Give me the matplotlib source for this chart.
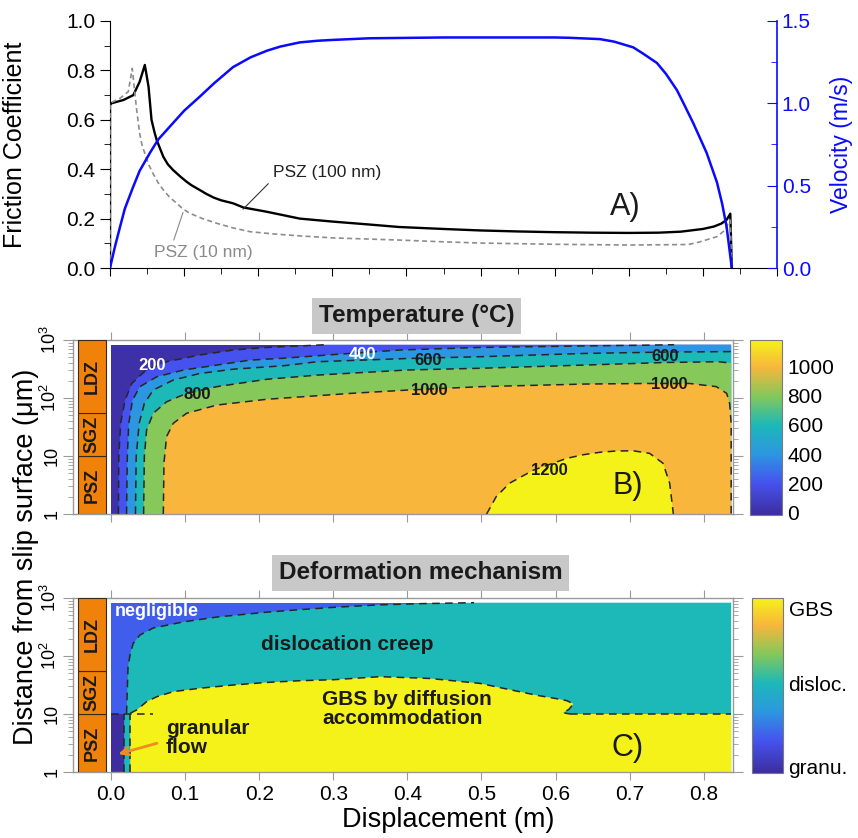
import matplotlib
matplotlib.use("Agg")
import matplotlib.pyplot as plt
import numpy as np
from matplotlib.colors import LinearSegmentedColormap, Normalize
from matplotlib.cm import ScalarMappable
from matplotlib.patches import Rectangle
from matplotlib.ticker import MultipleLocator, LogLocator, NullFormatter

plt.rcParams['font.family'] = ['Liberation Sans', 'DejaVu Sans']
plt.rcParams['mathtext.fontset'] = 'custom'
plt.rcParams['mathtext.rm'] = 'Liberation Sans'
plt.rcParams['mathtext.it'] = 'Liberation Sans:italic'
plt.rcParams['mathtext.bf'] = 'Liberation Sans:bold'

# ---- friction / velocity history (panel A) ----
disp_100 = [0.0, 0.0, 0.002, 0.018, 0.0315, 0.040, 0.047, 0.052, 0.056, 0.060, 0.063,
            0.068, 0.072, 0.078, 0.085, 0.095, 0.103, 0.11, 0.121, 0.13, 0.140, 0.15,
            0.166, 0.18, 0.211, 0.256, 0.30, 0.35, 0.39, 0.45, 0.50, 0.55, 0.60, 0.65,
            0.70, 0.74, 0.77, 0.80, 0.815, 0.825, 0.832, 0.837, 0.839]
mu_100 = [0.0, 0.66, 0.667, 0.68, 0.70, 0.754, 0.822, 0.734, 0.60, 0.55, 0.518,
          0.48, 0.45, 0.42, 0.397, 0.37, 0.35, 0.335, 0.316, 0.30, 0.285, 0.274,
          0.262, 0.245, 0.228, 0.20, 0.188, 0.176, 0.166, 0.158, 0.152, 0.148, 0.145,
          0.143, 0.142, 0.143, 0.147, 0.158, 0.168, 0.18, 0.195, 0.22, 0.0]

disp_10 = [0.0, 0.0, 0.0135, 0.0247, 0.030, 0.034, 0.036, 0.040, 0.043, 0.047, 0.052,
           0.058, 0.065, 0.072, 0.08, 0.090, 0.098, 0.108, 0.125, 0.144, 0.165, 0.189,
           0.22, 0.256, 0.30, 0.391, 0.45, 0.50, 0.60, 0.70, 0.78, 0.795, 0.819, 0.83,
           0.834, 0.837, 0.839]
mu_10 = [0.0, 0.667, 0.687, 0.714, 0.808, 0.694, 0.64, 0.545, 0.50, 0.464, 0.42,
         0.383, 0.345, 0.316, 0.288, 0.262, 0.24, 0.221, 0.20, 0.181, 0.163, 0.147,
         0.138, 0.130, 0.122, 0.113, 0.106, 0.101, 0.096, 0.093, 0.095, 0.105, 0.127,
         0.154, 0.181, 0.194, 0.0]

disp_v = [0.0, 0.0067, 0.0135, 0.02, 0.031, 0.04, 0.054, 0.065, 0.077, 0.09, 0.10,
          0.121, 0.14, 0.166, 0.19, 0.212, 0.23, 0.256, 0.28, 0.30, 0.35, 0.45, 0.55,
          0.60, 0.62, 0.661, 0.68, 0.706, 0.72, 0.738, 0.75, 0.765, 0.775, 0.787,
          0.795, 0.805, 0.812, 0.819, 0.826, 0.832, 0.839]
velocity = [0.0, 0.13, 0.249, 0.36, 0.49, 0.59, 0.70, 0.78, 0.84, 0.905, 0.955,
            1.04, 1.12, 1.22, 1.28, 1.32, 1.345, 1.37, 1.38, 1.385, 1.395, 1.40, 1.40,
            1.40, 1.398, 1.39, 1.375, 1.34, 1.30, 1.245, 1.18, 1.08, 0.99, 0.88,
            0.80, 0.70, 0.61, 0.52, 0.39, 0.25, 0.0]

# ---- temperature field (panel B): isotherms as (displacement, depth in um) ----
temp_levels = [200, 400, 600, 800, 1000, 1200]
t200_x = [0.010, 0.0105, 0.013, 0.019, 0.028, 0.045, 0.075, 0.12, 0.165, 0.21, 0.255, 0.29]
t200_z = [1, 9.7, 36.6, 92, 178, 284, 422, 552, 672, 745, 790, 830]
t400_x = [0.021, 0.022, 0.024, 0.029, 0.039, 0.062, 0.098, 0.143, 0.188, 0.233, 0.30,
          0.39, 0.50, 0.64, 0.72, 0.76]
t400_z = [1, 9.7, 36.6, 92, 157, 233, 304, 370, 450, 485, 560, 672, 745, 790, 812, 830]
t600_x = [0.033, 0.034, 0.038, 0.045, 0.057, 0.084, 0.12, 0.165, 0.233, 0.278, 0.40,
          0.50, 0.64, 0.75, 0.837]
t600_z = [1, 9.7, 36.6, 80.6, 137, 204, 265, 314, 360, 422, 480, 516, 587, 620, 631]
t800_x = [0.044, 0.045, 0.048, 0.057, 0.075, 0.102, 0.143, 0.21, 0.278, 0.40, 0.50,
          0.64, 0.75, 0.82, 0.837]
t800_z = [1, 9.7, 28, 54.5, 86, 120, 157, 210, 248, 304, 326, 370, 410, 422, 400]
t1000_x = [0.0706, 0.0715, 0.075, 0.084, 0.102, 0.143, 0.21, 0.323, 0.40, 0.50, 0.64,
           0.723, 0.781, 0.817, 0.831, 0.835, 0.837, 0.837]
t1000_z = [1, 7.6, 21.6, 36.6, 54.5, 75.6, 95, 120, 137, 157, 174, 178, 178, 157, 120,
           80, 36.6, 1]
t1200_x = [0.507, 0.52, 0.538, 0.57, 0.615, 0.637, 0.66, 0.682, 0.705, 0.727, 0.745,
           0.754, 0.759]
t1200_z = [1, 2.0, 3.4, 5.7, 9.1, 10.5, 11.6, 12.2, 12.3, 11.1, 7.5, 3.4, 1]
temp_ticks = [0, 200, 400, 600, 800, 1000]

# contour labels: (text, displacement, depth)
temp_label_text = ['200', '400', '600', '600', '800', '1000', '1000', '1200']
temp_label_x = [0.055, 0.339, 0.428, 0.748, 0.117, 0.43, 0.753, 0.591]
temp_label_z = [370, 552, 452, 510, 113, 137, 168, 5.7]

# ---- deformation mechanism map (panel C) ----
neg_x = [0.021, 0.022, 0.023, 0.026, 0.030, 0.039, 0.057, 0.098, 0.143, 0.21, 0.255,
         0.30, 0.36, 0.42, 0.49]
neg_z = [10.3, 25.9, 65, 110, 165, 230, 304, 388, 470, 570, 630, 690, 760, 800, 830]
gbs_x = [0.026, 0.035, 0.048, 0.062, 0.084, 0.12, 0.165, 0.21, 0.255, 0.30, 0.363,
         0.43, 0.498, 0.54, 0.575, 0.60, 0.615, 0.624, 0.618, 0.61, 0.62]
gbs_z = [10.3, 11.8, 16.3, 19.9, 24.3, 27.8, 31.6, 35, 37.5, 39, 44, 41, 33.7, 26,
         21, 18.5, 17, 15, 12, 10.5, 10]
granular_edge = 0.018
gbs_left_edge = 0.026
gbs_floor = 10
mech_value = {'granular': 0.0, 'negligible': 0.21, 'dislocation': 0.515, 'GBS': 1.0}
mech_ticks = [0.035, 0.51, 0.94]
mech_ticklabels = ['granu.', 'disloc.', 'GBS']

# shear zone layers next to the maps
zone_edges = [1, 10, 55, 1000]
zone_names = ['PSZ', 'SGZ', 'LDZ']

X_END = 0.837
Z_TOP = 830

parula = LinearSegmentedColormap.from_list('parula', [
    (0.0, '#3D2D9F'), (0.183, '#4553EE'), (0.349, '#2C97E0'), (0.515, '#1DB8B8'),
    (0.68, '#84C85A'), (0.846, '#F8B63C'), (1.0, '#F5F219')])
temp_norm = Normalize(-20, 1185)
mech_norm = Normalize(0, 1)

GREY = '#9a9a9a'
W, H = 858, 838
fig = plt.figure(figsize=(W / 100, H / 100), dpi=100)


def frac(x0, y0, x1, y1):
    # pixel box -> figure fraction rect
    return [x0 / W, 1 - y1 / H, (x1 - x0) / W, (y1 - y0) / H]


# ================= A) friction and velocity =================
axA = fig.add_axes(frac(110, 21, 777, 268))
axA.plot(disp_100, mu_100, color='black', lw=1.7, zorder=3)
axA.plot(disp_10, mu_10, color='#8c8c8c', lw=1.2, ls=(0, (3, 2)), zorder=3)
axA.set_xlim(0, 0.9)
axA.set_ylim(0, 1.0)
axA.spines['top'].set_visible(False)
axA.spines['right'].set_visible(False)
axA.xaxis.set_major_locator(MultipleLocator(0.1))
axA.xaxis.set_minor_locator(MultipleLocator(0.05))
axA.yaxis.set_major_locator(MultipleLocator(0.2))
axA.yaxis.set_minor_locator(MultipleLocator(0.1))
axA.set_yticks([0, 0.2, 0.4, 0.6, 0.8, 1.0], labels=['0.0', '0.2', '0.4', '0.6', '0.8', '1.0'])
axA.tick_params(axis='x', which='both', labelbottom=False, direction='out')
axA.tick_params(axis='x', which='major', length=6)
axA.tick_params(axis='x', which='minor', length=4)
axA.tick_params(axis='y', which='major', length=7, labelsize=15, direction='out')
axA.tick_params(axis='y', which='minor', length=4, direction='out')
axA.set_ylabel('Friction Coefficient', fontsize=18)
axA.yaxis.set_label_coords(-0.125, 0.5)

axA.annotate('PSZ (100 nm)', xy=(0.1795, 0.238), xytext=(0.220, 0.385),
             fontsize=12.5, color='#222222', ha='left', va='center',
             arrowprops=dict(arrowstyle='-', color='#333333', lw=0.8,
                             relpos=(0.0, 0.1), shrinkA=2, shrinkB=0))
axA.annotate('PSZ (10 nm)', xy=(0.0985, 0.225), xytext=(0.059, 0.061),
             fontsize=12.5, color='#8a8a8a', ha='left', va='center',
             arrowprops=dict(arrowstyle='-', color='#8a8a8a', lw=0.8,
                             relpos=(0.18, 0.9), shrinkA=2, shrinkB=0))
axA.text(0.695, 0.247, 'A)', fontsize=22, ha='center', va='center', color='#1a1a1a')

axV = axA.twinx()
axV.plot(disp_v, velocity, color='#0a0aff', lw=1.8, zorder=2)
axV.set_ylim(0, 1.5)
for side in ['top', 'left', 'bottom']:
    axV.spines[side].set_visible(False)
axV.spines['right'].set_color('#0a0aff')
axV.spines['right'].set_linewidth(1.2)
axV.yaxis.set_major_locator(MultipleLocator(0.5))
axV.yaxis.set_minor_locator(MultipleLocator(0.25))
axV.set_yticks([0, 0.5, 1.0, 1.5], labels=['0.0', '0.5', '1.0', '1.5'])
axV.tick_params(axis='y', which='both', direction='in', colors='#0a0aff', labelsize=15)
axV.tick_params(axis='y', which='major', length=7)
axV.tick_params(axis='y', which='minor', length=4)
axV.set_ylabel('Velocity (m/s)', fontsize=16.5, color='#0a0aff')
axV.yaxis.set_label_coords(1.08, 0.5)


def depth_axes(rect):
    ax = fig.add_axes(rect)
    ax.set_yscale('log')
    ax.set_xlim(-0.0513, 0.8395)
    ax.set_ylim(1, 1000)
    for s in ax.spines.values():
        s.set_color(GREY)
        s.set_linewidth(1.0)
    ax.xaxis.set_major_locator(MultipleLocator(0.1))
    ax.tick_params(axis='x', which='major', direction='out', top=True, bottom=True,
                   length=6, color=GREY, labelsize=15)
    ax.set_yticks([1, 10, 100, 1000], labels=['1', '10', '$10^2$', '$10^3$'],
                  rotation=90, va='center', fontsize=13)
    ax.yaxis.set_minor_locator(LogLocator(base=10, subs=np.arange(2, 10)))
    ax.yaxis.set_minor_formatter(NullFormatter())
    ax.tick_params(axis='y', which='major', direction='out', left=True, right=True,
                   length=7, color=GREY, pad=2)
    ax.tick_params(axis='y', which='minor', direction='out', left=True, right=True,
                   length=3.5, color=GREY)
    # PSZ / SGZ / LDZ column
    for z0, z1, name in zip(zone_edges[:-1], zone_edges[1:], zone_names):
        ax.add_patch(Rectangle((-0.0445, z0), 0.0378, z1 - z0, fc='#F0820A',
                               ec='#3a2a1a', lw=0.8, zorder=4))
        ax.text(-0.0256, np.sqrt(z0 * z1), name, rotation=90, ha='center',
                va='center', fontsize=13, fontweight='bold', color='#1a1a1a', zorder=5)
    return ax


def dashed(ax, xs, zs):
    ax.plot(xs, zs, color='#262626', lw=1.1, ls=(0, (5, 3.5)), zorder=3)


def region(xs, zs):
    # close an isotherm into the area on its hot side
    pts = list(zip(xs, zs))
    if zs[-1] > 1:
        if zs[-1] >= Z_TOP:
            pts.append((X_END, Z_TOP))
        pts.append((X_END, 1))
    return np.array(pts)


# ================= B) temperature =================
axB = depth_axes(frac(73, 340, 733, 514))
axB.tick_params(axis='x', labelbottom=False)
axB.fill([0, X_END, X_END, 0], [1, 1, Z_TOP, Z_TOP], color=parula(temp_norm(0)), lw=0)
isotherms = [(t200_x, t200_z), (t400_x, t400_z), (t600_x, t600_z), (t800_x, t800_z),
             (t1000_x, t1000_z), (t1200_x, t1200_z)]
for level, (xs, zs) in zip(temp_levels, isotherms):
    poly = region(xs, zs)
    axB.fill(poly[:, 0], poly[:, 1], color=parula(temp_norm(level)), lw=0, zorder=1)
for xs, zs in isotherms:
    dashed(axB, xs, zs)
for txt, lx, lz in zip(temp_label_text, temp_label_x, temp_label_z):
    col = 'white' if txt in ('200', '400') else '#1a1a1a'
    axB.text(lx, lz, txt, ha='center', va='center', fontsize=12, fontweight='bold',
             color=col, zorder=5)
axB.text(0.697, 3.04, 'B)', fontsize=22, ha='center', va='center', color='#1a1a1a', zorder=5)
axB.text(0.521, 1.138, 'Temperature (°C)', transform=axB.transAxes, ha='center',
         va='center', fontsize=17.5, fontweight='bold', color='#1a1a1a',
         bbox=dict(boxstyle='square,pad=0.28', fc='#c8c8c8', ec='none'))

caxB = fig.add_axes(frac(750, 340, 782, 515))
cbB = fig.colorbar(ScalarMappable(norm=temp_norm, cmap=parula), cax=caxB, ticks=temp_ticks)
cbB.outline.set_edgecolor('#7a7a7a')
caxB.tick_params(length=0, labelsize=15, pad=4)

# ================= C) deformation mechanism =================
axC = depth_axes(frac(73, 598, 733, 772))
axC.fill([0, X_END, X_END, 0], [1, 1, Z_TOP, Z_TOP],
         color=parula(mech_value['negligible']), lw=0)
disl = [(granular_edge, 1), (granular_edge, gbs_floor)] + list(zip(neg_x, neg_z)) + \
       [(X_END, Z_TOP), (X_END, 1)]
disl = np.array(disl)
axC.fill(disl[:, 0], disl[:, 1], color=parula(mech_value['dislocation']), lw=0, zorder=1)
gbs = [(gbs_left_edge, 1)] + list(zip(gbs_x, gbs_z)) + [(X_END, gbs_floor), (X_END, 1)]
gbs = np.array(gbs)
axC.fill(gbs[:, 0], gbs[:, 1], color=parula(mech_value['GBS']), lw=0, zorder=1)
axC.fill([0, granular_edge, granular_edge, 0], [1, 1, gbs_floor, gbs_floor],
         color=parula(mech_value['granular']), lw=0, zorder=1)

dashed(axC, neg_x, neg_z)
dashed(axC, gbs_x, gbs_z)
dashed(axC, [gbs_x[-1], X_END], [gbs_floor, gbs_floor])
dashed(axC, [granular_edge, granular_edge], [1, gbs_floor])
dashed(axC, [gbs_left_edge, gbs_left_edge], [1, gbs_floor])
dashed(axC, [0, 0.057], [gbs_floor, gbs_floor])

axC.text(0.005, 595, 'negligible', ha='left', va='center', fontsize=13,
         fontweight='bold', color='white', zorder=5)
axC.text(0.319, 155, 'dislocation creep', ha='center', va='center', fontsize=15,
         fontweight='bold', color='#1a1a1a', zorder=5)
axC.text(0.285, 12.2, 'GBS by diffusion\naccommodation', ha='left', va='center',
         fontsize=15, fontweight='bold', color='#1a1a1a', linespacing=1.0, zorder=5)
axC.text(0.074, 3.85, 'granular\nflow', ha='left', va='center', fontsize=15,
         fontweight='bold', color='#1a1a1a', linespacing=1.0, zorder=5)
axC.annotate('', xy=(0.0099, 2.04), xytext=(0.062, 3.13),
             arrowprops=dict(arrowstyle='->', color='#F08C1E', lw=2.0,
                             mutation_scale=14, shrinkA=0, shrinkB=0), zorder=6)
axC.text(0.697, 2.6, 'C)', fontsize=22, ha='center', va='center', color='#1a1a1a', zorder=5)
axC.text(0.527, 1.144, 'Deformation mechanism', transform=axC.transAxes, ha='center',
         va='center', fontsize=17.5, fontweight='bold', color='#1a1a1a',
         bbox=dict(boxstyle='square,pad=0.28', fc='#c8c8c8', ec='none'))
axC.set_xticks(np.arange(0, 0.85, 0.1), labels=['0.0', '0.1', '0.2', '0.3', '0.4',
                                                '0.5', '0.6', '0.7', '0.8'])

caxC = fig.add_axes(frac(752, 598, 783, 773))
cbC = fig.colorbar(ScalarMappable(norm=mech_norm, cmap=parula), cax=caxC, ticks=mech_ticks)
cbC.set_ticklabels(mech_ticklabels)
cbC.outline.set_edgecolor('#7a7a7a')
caxC.tick_params(length=0, labelsize=15, pad=4)

fig.text(0.522, 0.021, 'Displacement (m)', ha='center', va='center', fontsize=19.5)
fig.text(0.030, 0.336, 'Distance from slip surface (μm)', ha='center', va='center',
         rotation=90, fontsize=19.5)

fig.savefig('out.png', dpi=100, facecolor='white')
